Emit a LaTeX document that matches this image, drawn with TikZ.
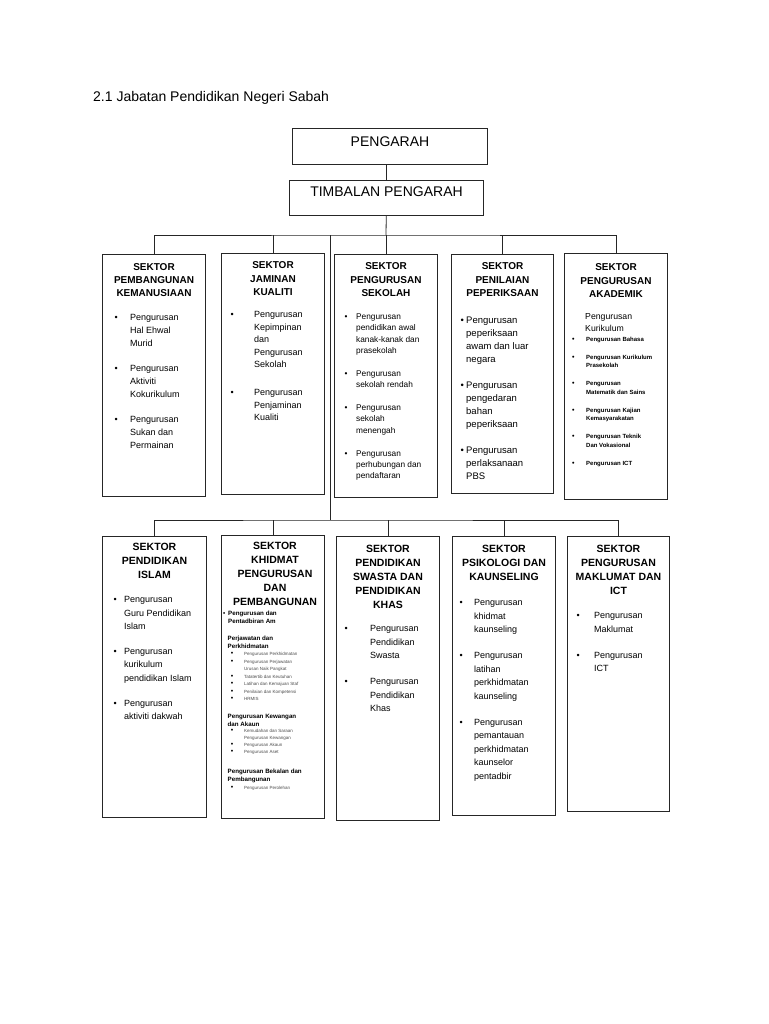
\documentclass[tikz,border=0pt]{standalone}
\usepackage{fontspec}
\setmainfont{Liberation Sans}
\usepackage{tikz}
\usetikzlibrary{positioning}

\newcommand{\ukuran}[2]{\fontsize{#1}{#2}\selectfont}
\newcommand{\senarai}[2]{\begin{tabular}[t]{@{}p{#1}@{}l@{}}#2\end{tabular}}
\newcommand{\baris}[1]{\begin{tabular}[t]{@{}c@{}}#1\end{tabular}}
\newcommand{\titik}{\leavevmode\smash{\hbox{\color{black}\fontsize{7}{7}\selectfont\textbullet}}}

\begin{document}
\begin{tikzpicture}[x=1pt,y=-1pt]
      \tikzstyle{sektor}=[draw=black!85, line width=1pt, fill=white, minimum width=103pt, anchor=north west, inner sep=0pt]
      \tikzstyle{ketua}=[draw=black!85, line width=1pt, inner xsep=0pt, inner ysep=0pt, anchor=north west, font=\ukuran{14}{16}]
      \tikzstyle{tajuk}=[anchor=north, inner sep=0pt, font=\bfseries\ukuran{10}{13.3}]
      \tikzstyle{tajuk2}=[tajuk, font=\bfseries\ukuran{10.5}{14}]
      \tikzstyle{isi}=[anchor=north west, inner sep=0pt, font=\ukuran{9}{13.5}]
      \tikzstyle{kecil}=[isi, font=\bfseries\ukuran{6.2}{8.5}]
      \tikzstyle{halus}=[isi, text=black!70, font=\ukuran{4.5}{7.5}]
      \tikzstyle{garis}=[line width=0.8pt, draw=black!85]

      \fill[white] (0,0) rectangle (768,1024);
      \useasboundingbox (0,0) rectangle (768,1024);

      \node (judul) at (93,102) [anchor=base west, inner sep=0pt, font=\ukuran{14}{16}] {2.1 Jabatan Pendidikan Negeri Sabah};

      \node (pengarah) at (292,128) [ketua, minimum width=195pt, text height=18pt, text depth=18pt] {PENGARAH};
      \node (timbalan) at (289,180) [ketua, minimum width=194pt, text height=16pt, text depth=19pt] {TIMBALAN PENGARAH};

      \node (sA1) at (102,254) [sektor, minimum height=242pt] {};
      \node (sA2) at (221,253) [sektor, minimum height=241pt] {};
      \node (sA3) at (334,254) [sektor, minimum height=243pt] {};
      \node (sA4) at (451,254) [sektor, minimum width=102pt, minimum height=239pt] {};
      \node (sA5) at (564,253) [sektor, minimum height=246pt] {};

      \node (sB1) at (102,536) [sektor, minimum width=104pt, minimum height=281pt] {};
      \node (sB2) at (221,535) [sektor, minimum height=283pt] {};
      \node (sB3) at (336,536) [sektor, minimum height=284pt] {};
      \node (sB4) at (452,536) [sektor, minimum height=279pt] {};
      \node (sB5) at (567,536) [sektor, minimum width=102pt, minimum height=275pt] {};

      \coordinate (simpang1) at (386,235);
      \coordinate (simpang2) at (330,235);
      \coordinate (simpang3) at (330,520);

      \draw[garis] (pengarah.south -| timbalan.north) -- (timbalan.north);
      \draw[garis] (timbalan) -- (simpang1);
      \draw[garis] (sA1) |- (simpang1) -| (sA5);
      \draw[garis] (sA2.north) -- (sA2.north |- simpang1);
      \draw[garis] (sA3.north) -- (sA3.north |- simpang1);
      \draw[garis] (sA4.north) -- (sA4.north |- simpang1);
      \draw[garis] (simpang2) -- (simpang3);
      \draw[garis] (sB1) |- (simpang3) -| (sB5);
      \draw[garis] (sB2.north) -- (sB2.north |- simpang3);
      \draw[garis] (sB3.north) -- (sB3.north |- simpang3);
      \draw[garis] (sB4.north) -- (sB4.north |- simpang3);

      \node (hA1) [tajuk, below=6.7pt of sA1.north] {\baris{SEKTOR\\PEMBANGUNAN\\KEMANUSIAAN}};
      \node (iA1) [isi, font=\ukuran{9}{13}, below right=57.4pt and 12.4pt of sA1.north west]
        {\senarai{15.6pt}{\textbullet & Pengurusan\\ & Hal Ehwal\\ & Murid\\[12pt]
          \textbullet & Pengurusan\\ & Aktiviti\\ & Kokurikulum\\[12pt]
          \textbullet & Pengurusan\\ & Sukan dan\\ & Permainan}};

      \node (hA2) [tajuk, below=6.3pt of sA2.north] {\baris{SEKTOR\\JAMINAN\\KUALITI}};
      \node (iA2) [isi, font=\ukuran{9}{12.5}, below right=55.75pt and 9.4pt of sA2.north west]
        {\senarai{23.6pt}{\textbullet & Pengurusan\\ & Kepimpinan\\ & dan\\ & Pengurusan\\ & Sekolah\\[15.5pt]
          \textbullet & Pengurusan\\ & Penjaminan\\ & Kualiti}};

      \node (hA3) [tajuk, below=6.3pt of sA3.north] {\baris{SEKTOR\\PENGURUSAN\\SEKOLAH}};
      \node (iA3) [isi, font=\ukuran{8.3}{11.3}, below right=57.3pt and 10.5pt of sA3.north west]
        {\senarai{11.5pt}{\textbullet & Pengurusan\\ & pendidikan awal\\ & kanak-kanak dan\\ & prasekolah\\[11.7pt]
          \textbullet & Pengurusan\\ & sekolah rendah\\[11.7pt]
          \textbullet & Pengurusan\\ & sekolah\\ & menengah\\[11.7pt]
          \textbullet & Pengurusan\\ & perhubungan dan\\ & pendaftaran}};

      \node (hA4) [tajuk, below=6.3pt of sA4.north] {\baris{SEKTOR\\PENILAIAN\\PEPERIKSAAN}};
      \node (iA4) [isi, font=\ukuran{9.5}{13}, below right=60.4pt and 9.3pt of sA4.north west]
        {\senarai{5.7pt}{\textbullet & Pengurusan\\ & peperiksaan\\ & awam dan luar\\ & negara\\[13pt]
          \textbullet & Pengurusan\\ & pengedaran\\ & bahan\\ & peperiksaan\\[13pt]
          \textbullet & Pengurusan\\ & perlaksanaan\\ & PBS}};

      \node (hA5) [tajuk, below=8.3pt of sA5.north] {\baris{SEKTOR\\PENGURUSAN\\AKADEMIK}};
      \node (kA5) [isi, font=\ukuran{8.7}{12}, below right=57.6pt and 21pt of sA5.north west]
        {\begin{tabular}[t]{@{}l@{}}Pengurusan\\Kurikulum\end{tabular}};
      \node (iA5) [isi, font=\bfseries\ukuran{6}{8.5}, below right=82pt and 8pt of sA5.north west]
        {\senarai{14pt}{\titik & Pengurusan Bahasa\\[9.5pt]
          \titik & Pengurusan Kurikulum\\ & Prasekolah\\[9.5pt]
          \titik & Pengurusan\\ & Matematik dan Sains\\[9.5pt]
          \titik & Pengurusan Kajian\\ & Kemasyarakatan\\[9.5pt]
          \titik & Pengurusan Teknik\\ & Dan Vokasional\\[9.5pt]
          \titik & Pengurusan ICT}};

      \node (hB1) [tajuk2, below=4pt of sB1.north] {\baris{SEKTOR\\PENDIDIKAN\\ISLAM}};
      \node (iB1) [isi, font=\ukuran{9}{13.3}, below right=57.2pt and 11.4pt of sB1.north west]
        {\senarai{10.6pt}{\textbullet & Pengurusan\\ & Guru Pendidikan\\ & Islam\\[12pt]
          \textbullet & Pengurusan\\ & kurikulum\\ & pendidikan Islam\\[12pt]
          \textbullet & Pengurusan\\ & aktiviti dakwah}};

      \node (hB2) [tajuk2, below=4pt of sB2.north, xshift=2pt] {\baris{SEKTOR\\KHIDMAT\\PENGURUSAN\\DAN\\PEMBANGUNAN}};
      \node (gB2a) [kecil, below right=74.3pt and 2pt of sB2.north west]
        {\senarai{5pt}{\textbullet & Pengurusan dan\\ & Pentadbiran Am}};
      \node (gB2b) [kecil, below right=99.3pt and 6.5pt of sB2.north west]
        {\begin{tabular}[t]{@{}l@{}}Perjawatan dan\\Perkhidmatan\end{tabular}};
      \node (gB2c) [halus, below right=115.5pt and 9.6pt of sB2.north west]
        {\senarai{13.4pt}{\titik & Pengurusan Perkhidmatan\\
          \titik & Pengurusan Perjawatan\\ & Urusan Naik Pangkat\\
          \titik & Tatatertib dan Keutuhan\\
          \titik & Latihan dan Kemajuan Staf\\
          \titik & Penilaian dan Kompetensi\\
          \titik & HRMIS}};
      \node (gB2d) [kecil, below right=177.3pt and 6.5pt of sB2.north west]
        {\begin{tabular}[t]{@{}l@{}}Pengurusan Kewangan\\dan Akaun\end{tabular}};
      \node (gB2e) [halus, font=\ukuran{4.5}{7}, below right=192.5pt and 9.6pt of sB2.north west]
        {\senarai{13.4pt}{\titik & Kemudahan dan Saraan\\ & Pengurusan Kewangan\\
          \titik & Pengurusan Akaun\\
          \titik & Pengurusan Aset}};
      \node (gB2f) [kecil, below right=232.3pt and 6.5pt of sB2.north west]
        {\begin{tabular}[t]{@{}l@{}}Pengurusan Bekalan dan\\Pembangunan\end{tabular}};
      \node (gB2g) [halus, below right=249.5pt and 9.6pt of sB2.north west]
        {\senarai{13.4pt}{\titik & Pengurusan Perolehan}};

      \node (hB3) [tajuk2, below=6pt of sB3.north] {\baris{SEKTOR\\PENDIDIKAN\\SWASTA DAN\\PENDIDIKAN\\KHAS}};
      \node (iB3) [isi, below right=86.1pt and 8.4pt of sB3.north west]
        {\senarai{25.6pt}{\textbullet & Pengurusan\\ & Pendidikan\\ & Swasta\\[12.5pt]
          \textbullet & Pengurusan\\ & Pendidikan\\ & Khas}};

      \node (hB4) [tajuk2, below=6pt of sB4.north] {\baris{SEKTOR\\PSIKOLOGI DAN\\KAUNSELING}};
      \node (iB4) [isi, below right=60.1pt and 7.4pt of sB4.north west]
        {\senarai{14.6pt}{\textbullet & Pengurusan\\ & khidmat\\ & kaunseling\\[12.5pt]
          \textbullet & Pengurusan\\ & latihan\\ & perkhidmatan\\ & kaunseling\\[12.5pt]
          \textbullet & Pengurusan\\ & pemantauan\\ & perkhidmatan\\ & kaunselor\\ & pentadbir}};

      \node (hB5) [tajuk2, below=6pt of sB5.north] {\baris{SEKTOR\\PENGURUSAN\\MAKLUMAT DAN\\ICT}};
      \node (iB5) [isi, below right=73.1pt and 9.4pt of sB5.north west]
        {\senarai{17.6pt}{\textbullet & Pengurusan\\ & Maklumat\\[12.5pt]
          \textbullet & Pengurusan\\ & ICT}};
    \end{tikzpicture}
\end{document}
